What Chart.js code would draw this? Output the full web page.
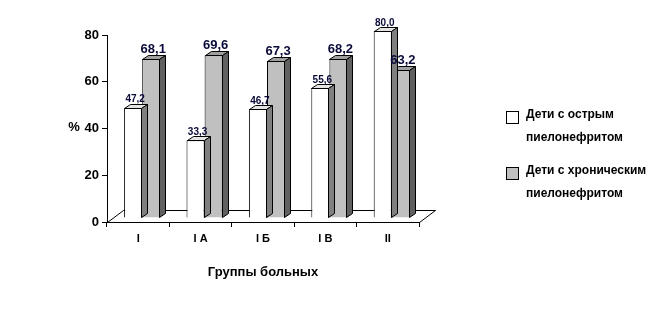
<!DOCTYPE html>
<html>
<head>
<meta charset="utf-8">
<script src="https://cdn.jsdelivr.net/npm/chart.js@4"></script>
<style>
  html, body { margin: 0; padding: 0; background: #fff; }
  #wrap { width: 672px; height: 314px; }
</style>
</head>
<body>
<div id="wrap"><canvas id="graph" width="672" height="314"></canvas></div>
<script>
var labels = ['I', 'I A', 'I Б', 'I В', 'II'];
var acute = [47.2, 33.3, 46.7, 55.6, 80.0];
var chronic = [68.1, 69.6, 67.3, 68.2, 63.2];
var seriesNames = [
  ['Дети с острым', 'пиелонефритом'],
  ['Дети с хроническим', 'пиелонефритом']
];
var yTicks = [0, 20, 40, 60, 80];

var FONT = '"Liberation Sans", Arial, sans-serif';
// 3d look: depth of a bar, shift of the bars behind the front plane
var depth = { dx: 6, dy: 4 };
var shift = { x: 4, y: -4 };
var faces = [
  { top: '#e4e4e4', side: '#808080' },
  { top: '#a0a0a0', side: '#606060' }
];
var labelFont = ['bold 10px ' + FONT, 'bold 13px ' + FONT];

function fmt(v) {
  return v.toFixed(1).replace('.', ',');
}

var bars3d = {
  id: 'bars3d',
  beforeDatasetsDraw: function(chart) {
    var ctx = chart.ctx, a = chart.chartArea;
    // floor
    ctx.save();
    ctx.strokeStyle = '#000';
    ctx.lineWidth = 1;
    ctx.beginPath();
    ctx.moveTo(a.left + 0.5, a.bottom + 0.5);
    ctx.lineTo(a.left + 16.5, a.bottom - 11.5);
    ctx.lineTo(a.right + 16.5, a.bottom - 11.5);
    ctx.lineTo(a.right + 0.5, a.bottom + 0.5);
    ctx.stroke();
    ctx.restore();
    ctx.save();
    ctx.translate(shift.x, shift.y);
  },
  afterDatasetDraw: function(chart, args) {
    var ctx = chart.ctx;
    var f = faces[args.index];
    args.meta.data.forEach(function(bar) {
      var p = bar.getProps(['x', 'y', 'base', 'width'], true);
      var l = Math.round(p.x - p.width / 2) + 0.5;
      var r = Math.round(p.x + p.width / 2) - 0.5;
      var t = Math.round(p.y) + 0.5;
      var b = Math.round(p.base) - 0.5;
      ctx.lineWidth = 1;
      ctx.strokeStyle = '#000';
      // top
      ctx.beginPath();
      ctx.moveTo(l, t);
      ctx.lineTo(l + depth.dx, t - depth.dy);
      ctx.lineTo(r + depth.dx, t - depth.dy);
      ctx.lineTo(r, t);
      ctx.closePath();
      ctx.fillStyle = f.top;
      ctx.fill();
      ctx.stroke();
      // side
      ctx.beginPath();
      ctx.moveTo(r, t);
      ctx.lineTo(r + depth.dx, t - depth.dy);
      ctx.lineTo(r + depth.dx, b - depth.dy);
      ctx.lineTo(r, b);
      ctx.closePath();
      ctx.fillStyle = f.side;
      ctx.fill();
      ctx.stroke();
    });
  },
  afterDatasetsDraw: function(chart) {
    var ctx = chart.ctx;
    chart.data.datasets.forEach(function(ds, i) {
      var meta = chart.getDatasetMeta(i);
      ctx.font = labelFont[i];
      ctx.fillStyle = '#0a0a3a';
      ctx.textAlign = 'center';
      ctx.textBaseline = 'bottom';
      meta.data.forEach(function(bar, j) {
        var p = bar.getProps(['x', 'y'], true);
        ctx.fillText(fmt(ds.data[j]), p.x + depth.dx / 2 - 1, p.y - depth.dy + 1);
      });
    });
    ctx.restore();
  },
  afterDraw: function(chart) {
    var ctx = chart.ctx;
    ctx.save();
    // y axis title, kept horizontal
    ctx.font = 'bold 13px ' + FONT;
    ctx.fillStyle = '#000';
    ctx.textAlign = 'center';
    ctx.textBaseline = 'middle';
    ctx.fillText('%', 74, chart.scales.y.getPixelForValue(40) - 1);
    // legend
    var colors = [chart.data.datasets[0].backgroundColor, chart.data.datasets[1].backgroundColor];
    var tops = [111, 167];
    ctx.font = 'bold 12px ' + FONT;
    ctx.textAlign = 'left';
    seriesNames.forEach(function(lines, i) {
      ctx.fillStyle = colors[i];
      ctx.fillRect(506, tops[i], 13, 13);
      ctx.strokeStyle = '#000';
      ctx.lineWidth = 1;
      ctx.strokeRect(506.5, tops[i] + 0.5, 12, 12);
      ctx.fillStyle = '#000';
      lines.forEach(function(s, k) {
        ctx.fillText(s, 526, tops[i] + 4 + k * 23);
      });
    });
    ctx.restore();
  }
};

var data = {
  labels: labels,
  datasets: [{
    label: seriesNames[0].join(' '),
    data: acute,
    backgroundColor: '#ffffff',
    borderColor: '#000',
    borderWidth: 1
  }, {
    label: seriesNames[1].join(' '),
    data: chronic,
    backgroundColor: '#c0c0c0',
    borderColor: '#000',
    borderWidth: 1
  }]
};

var config = {
  type: 'bar',
  data: data,
  plugins: [bars3d],
  options: {
    responsive: false,
    animation: false,
    layout: { padding: { left: 0, top: 35, right: 253, bottom: 34 } },
    datasets: {
      bar: { barPercentage: 1, categoryPercentage: 0.58 }
    },
    plugins: {
      legend: { display: false },
      tooltip: { enabled: false }
    },
    scales: {
      x: {
        afterFit: function(s) { s.height = 58; },
        grid: {
          drawOnChartArea: false,
          offset: true,
          tickLength: 5,
          color: '#000'
        },
        border: { color: '#000' },
        ticks: {
          color: '#000',
          font: { family: FONT, size: 11, weight: 'bold' },
          padding: 5
        },
        title: {
          display: true,
          text: 'Группы больных',
          color: '#000',
          font: { family: FONT, size: 13, weight: 'bold' },
          padding: { top: 0, bottom: 0 }
        }
      },
      y: {
        min: 0,
        max: 80,
        afterFit: function(s) { s.width = 107; },
        afterBuildTicks: function(s) {
          s.ticks = yTicks.map(function(v) { return { value: v }; });
        },
        grid: {
          drawOnChartArea: false,
          tickLength: 5,
          color: '#000'
        },
        border: { color: '#000' },
        ticks: {
          color: '#000',
          font: { family: FONT, size: 13, weight: 'bold' },
          padding: 3
        }
      }
    }
  }
};

var graph = new Chart(document.getElementById('graph'), config);
</script>
</body>
</html>
